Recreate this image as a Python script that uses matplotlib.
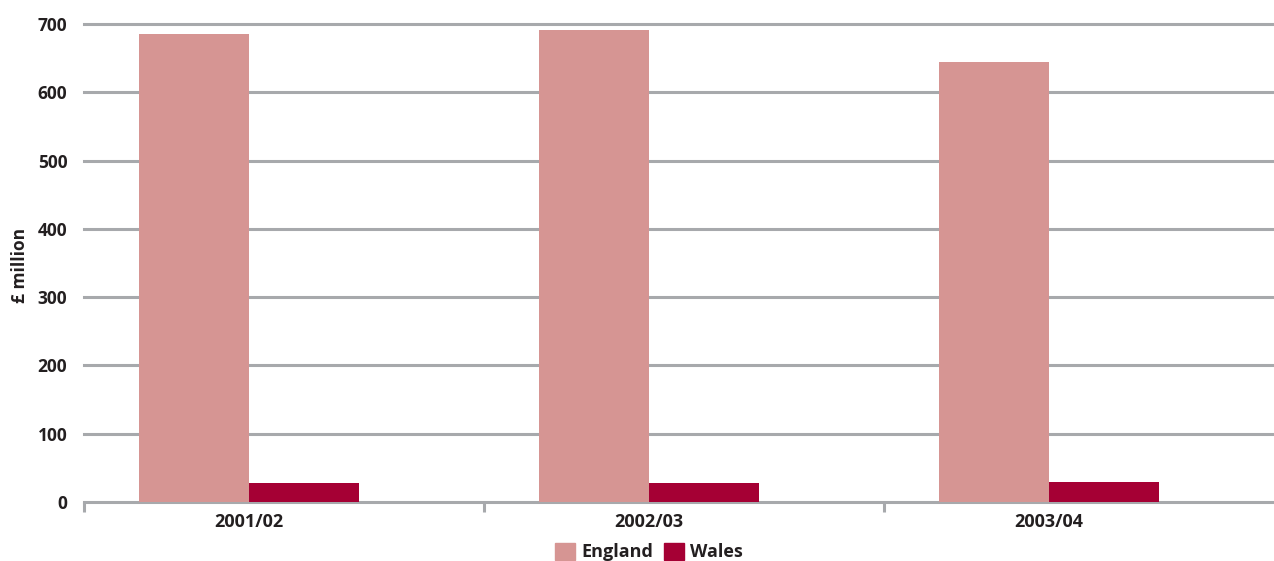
import matplotlib
matplotlib.use("Agg")
import matplotlib.pyplot as plt
import numpy as np
from matplotlib.patches import Patch

categories = ["2001/02", "2002/03", "2003/04"]
england = [685, 691, 644]
wales = [28, 28, 29]
yticks = [0, 100, 200, 300, 400, 500, 600, 700]

plt.rcParams['font.family'] = ['Open Sans', 'DejaVu Sans']
txt = "#231f20"
grid = "#a7a9ac"
c_eng = "#d69593"
c_wal = "#a50034"

fig = plt.figure(figsize=(12.74, 5.61), dpi=100)
ax = fig.add_axes([84/1274, 59/561, 1200/1274, 478/561])

x = np.arange(len(categories))
w = 0.275
ax.bar(x - 0.225, england, width=w, color=c_eng, zorder=3)
ax.bar(x + 0.05, wales, width=w, color=c_wal, zorder=3)

ax.set_xlim(-0.5, 2.5)
ax.set_ylim(0, 700)
ax.set_yticks(yticks)
ax.set_yticklabels([str(v) for v in yticks], fontsize=12.5, fontweight='bold', color=txt)
for v in yticks[1:]:
    ax.axhline(v, color=grid, lw=2.2, zorder=1, clip_on=False)
for s in ['top', 'right', 'left']:
    ax.spines[s].set_visible(False)
ax.spines['bottom'].set_color(grid)
ax.spines['bottom'].set_linewidth(2.2)
ax.tick_params(axis='y', length=0, pad=12)

ax.set_xticks([-0.5, 0.5, 1.5])
ax.set_xticklabels([])
ax.tick_params(axis='x', which='major', length=7, width=2.2, color=grid, direction='out')
ax.set_xticks(x - 0.0875, minor=True)
ax.set_xticklabels(categories, minor=True, fontsize=13, fontweight='bold', color=txt)
ax.tick_params(axis='x', which='minor', length=0, pad=8)

fig.text(20/1274, 1 - 265/561, "£ million", rotation=90, ha='center', va='center',
         fontsize=12.5, fontweight='bold', color=txt)

handles = [Patch(color=c_eng, label="England"), Patch(color=c_wal, label="Wales")]
fig.legend(handles=handles, loc='center', bbox_to_anchor=(649/1274, 1 - 552/561), ncol=2,
           frameon=False, prop={'size': 13, 'weight': 'bold'}, handlelength=1.1,
           handleheight=1.1, handletextpad=0.35, columnspacing=0.6, labelcolor=txt)

fig.savefig("out.png", dpi=100)
